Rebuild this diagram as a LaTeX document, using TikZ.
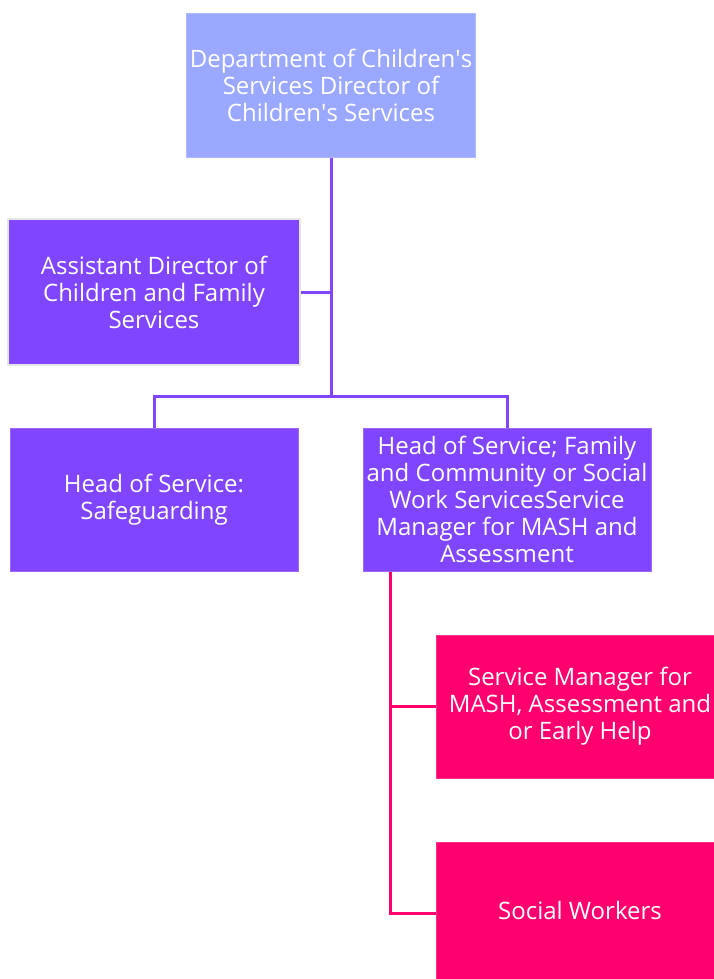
\documentclass[tikz,border=0pt]{standalone}
\usepackage{fontspec}
\setmainfont{Open Sans}
\definecolor{topblue}{HTML}{9BA8FF}
\definecolor{purp}{HTML}{8046FF}
\definecolor{pinkc}{HTML}{FF006E}
\newcommand{\apos}{\textquotesingle}
\begin{document}
\begin{tikzpicture}[x=1pt,y=-1pt,
  box/.style={draw=#1!80!white, line width=1pt, fill=#1, text=white, align=center,
    font=\fontsize{24}{27}\selectfont, inner sep=0pt},
  lnk/.style={draw=purp, line width=3pt},
  lnkp/.style={draw=pinkc, line width=3pt}]
\useasboundingbox (0,0) rectangle (714,979);
\clip (0,0) rectangle (714,979);
\node[box=topblue, minimum width=289pt, minimum height=143pt] (dir) at (331,85.5)
  {Department of Children\apos s\\Services Director of\\Children\apos s Services};
\node[box=purp, draw=black!10, line width=2pt, minimum width=292pt, minimum height=146pt] (asst) at (154,292)
  {Assistant Director of\\Children and Family\\Services};
\node[box=purp, minimum width=288pt, minimum height=143pt] (safe) at (154,499.5)
  {Head of Service:\\Safeguarding};
\node[box=purp, minimum width=288pt, minimum height=143pt] (fam) at (507,499.5)
  {Head of Service; Family\\and Community or Social\\Work ServicesService\\Manager for MASH and\\Assessment};
\node[box=pinkc, minimum width=288pt, minimum height=143pt] (mash) at (580,706.5)
  {Service Manager for\\MASH, Assessment and\\or Early Help};
\node[box=pinkc, minimum width=288pt, minimum height=137pt] (sw) at (580,910.5)
  {Social Workers};
\coordinate (j1) at (331,396);
\coordinate (jp) at (390,913);
\draw[lnk] (dir.south) -- (j1);
\draw[lnk] (asst.east) -- (asst.east -| j1);
\draw[lnk] (safe.north) |- (j1) -| (fam.north);
\draw[lnkp] (fam.south -| jp) -- (jp) -- (jp -| sw.west);
\draw[lnkp] (mash.west) -- (mash.west -| jp);
\end{tikzpicture}
\end{document}
